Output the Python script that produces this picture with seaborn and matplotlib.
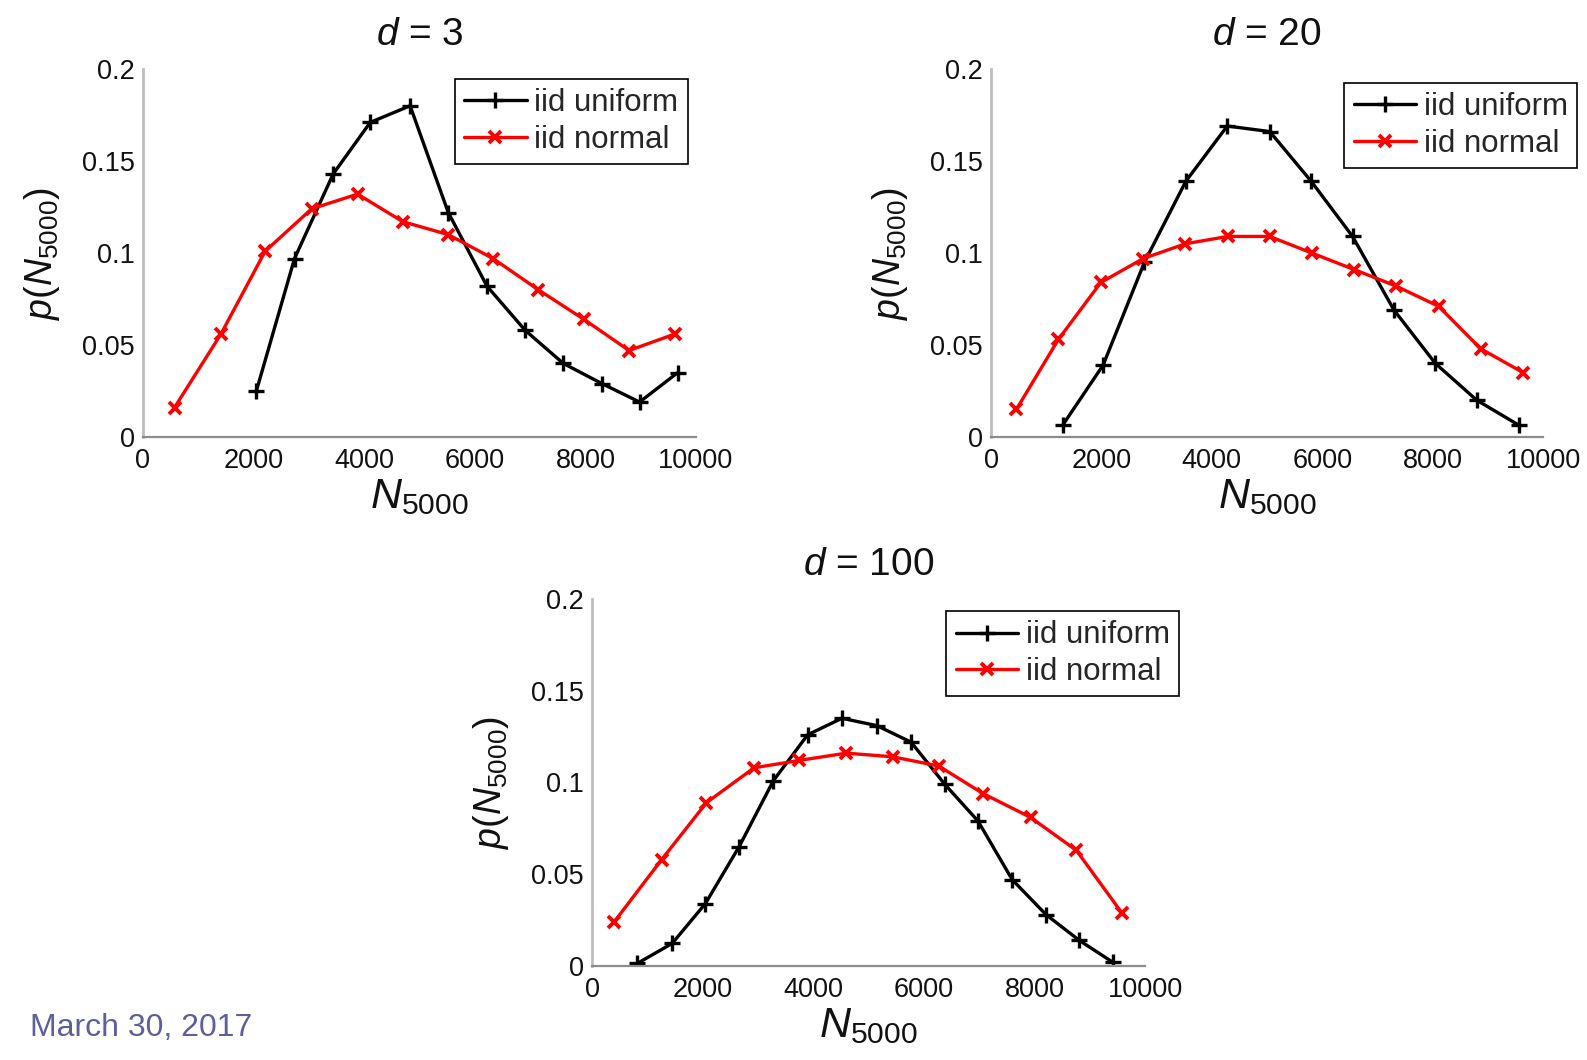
import matplotlib
matplotlib.use("Agg")
import matplotlib.pyplot as plt
import seaborn as sns
import numpy as np
import pandas as pd

# ---- data: p(N_5000) for iid uniform and iid normal samples, three dimensions ----
d3_uniform_x = [2050, 2740, 3440, 4110, 4830, 5520, 6220, 6910, 7600, 8300, 8980, 9670]
d3_uniform_y = [0.025, 0.097, 0.143, 0.171, 0.180, 0.122, 0.082, 0.058, 0.040, 0.029, 0.019, 0.035]
d3_normal_x = [570, 1410, 2210, 3050, 3880, 4700, 5520, 6330, 7150, 7970, 8790, 9620]
d3_normal_y = [0.016, 0.056, 0.101, 0.124, 0.132, 0.117, 0.110, 0.097, 0.080, 0.064, 0.047, 0.056]

d20_uniform_x = [1300, 2030, 2780, 3530, 4280, 5050, 5800, 6550, 7300, 8050, 8800, 9570]
d20_uniform_y = [0.0065, 0.039, 0.095, 0.139, 0.169, 0.166, 0.139, 0.109, 0.069, 0.040, 0.020, 0.0063]
d20_normal_x = [460, 1220, 1990, 2760, 3520, 4290, 5050, 5810, 6580, 7340, 8110, 8870, 9640]
d20_normal_y = [0.015, 0.053, 0.084, 0.097, 0.105, 0.109, 0.109, 0.100, 0.091, 0.082, 0.071, 0.048, 0.035]

d100_uniform_x = [820, 1450, 2050, 2660, 3280, 3900, 4520, 5150, 5770, 6380, 6980, 7600, 8210, 8810, 9420]
d100_uniform_y = [0.0014, 0.0123, 0.034, 0.065, 0.101, 0.126, 0.135, 0.131, 0.122, 0.099, 0.079, 0.047, 0.028, 0.014, 0.002]
d100_normal_x = [400, 1260, 2070, 2930, 3740, 4600, 5440, 6270, 7070, 7930, 8760, 9580]
d100_normal_y = [0.024, 0.058, 0.089, 0.108, 0.112, 0.116, 0.114, 0.109, 0.094, 0.081, 0.063, 0.029]

panel_titles = [r"$d$ = 3", r"$d$ = 20", r"$d$ = 100"]
series_labels = ["iid uniform", "iid normal"]
x_ticks = [0, 2000, 4000, 6000, 8000, 10000]
y_ticks = [0, 0.05, 0.1, 0.15, 0.2]
y_tick_labels = ["0", "0.05", "0.1", "0.15", "0.2"]
date_text = "March 30, 2017"

sns.set_style("white")
plt.rcParams["font.family"] = ["Liberation Sans", "DejaVu Sans"]
plt.rcParams["mathtext.fontset"] = "custom"
plt.rcParams["mathtext.rm"] = "Liberation Sans"
plt.rcParams["mathtext.it"] = "Liberation Sans:italic"

W, H = 1587, 1060
fig = plt.figure(figsize=(W / 100, H / 100), dpi=100)
fig.patch.set_facecolor("white")


def px_axes(left, top, right, bottom):
    return fig.add_axes([left / W, 1 - bottom / H, (right - left) / W, (bottom - top) / H])


panels = [
    dict(box=(143, 69, 696, 437), data=(d3_uniform_x, d3_uniform_y, d3_normal_x, d3_normal_y),
         legend_anchor=(0.985, 0.973), title=panel_titles[0]),
    dict(box=(991, 69, 1543, 437), data=(d20_uniform_x, d20_uniform_y, d20_normal_x, d20_normal_y),
         legend_anchor=(1.062, 0.962), title=panel_titles[1]),
    dict(box=(592, 599, 1145, 966), data=(d100_uniform_x, d100_uniform_y, d100_normal_x, d100_normal_y),
         legend_anchor=(1.062, 0.967), title=panel_titles[2]),
]

for p in panels:
    ax = px_axes(*p["box"])
    ux, uy, nx, ny = p["data"]
    df_u = pd.DataFrame({"N": ux, "p": uy})
    df_n = pd.DataFrame({"N": nx, "p": ny})
    sns.lineplot(data=df_u, x="N", y="p", ax=ax, color="black", linewidth=2.4,
                 marker="+", markersize=11, markeredgewidth=2.4,
                 markeredgecolor="black", markerfacecolor="black", label=series_labels[0])
    sns.lineplot(data=df_n, x="N", y="p", ax=ax, color="#ff0000", linewidth=2.4,
                 marker="x", markersize=9, markeredgewidth=2.8,
                 markeredgecolor="#ff0000", markerfacecolor="#ff0000", label=series_labels[1])

    ax.set_xlim(0, 10000)
    ax.set_ylim(0, 0.2)
    ax.set_xticks(x_ticks)
    ax.set_xticklabels([str(t) for t in x_ticks])
    ax.set_yticks(y_ticks)
    ax.set_yticklabels(y_tick_labels)
    ax.tick_params(axis="both", direction="in", length=5, width=1.2, color="#999999",
                   labelsize=19.5, labelcolor="#111111", pad=6)
    ax.tick_params(axis="x", pad=8)
    for side in ("top", "right"):
        ax.spines[side].set_visible(False)
    ax.spines["left"].set_color("#bdbdbd")
    ax.spines["left"].set_linewidth(2.0)
    ax.spines["bottom"].set_color("#8c8c8c")
    ax.spines["bottom"].set_linewidth(1.6)
    ax.set_facecolor("none")

    ax.set_title(p["title"], fontsize=28, pad=17, color="#111111")
    ax.set_xlabel(r"$N_{5000}$", fontsize=31, labelpad=2, color="#111111")
    ax.set_ylabel(r"$p(N_{5000})$", fontsize=27, labelpad=14, color="#111111")

    leg = ax.legend(loc="upper right", bbox_to_anchor=p["legend_anchor"], borderaxespad=0,
                    fontsize=22.5, frameon=True, fancybox=False, handlelength=2.0,
                    handletextpad=0.25, borderpad=0.3, labelspacing=0.2)
    frame = leg.get_frame()
    frame.set_edgecolor("black")
    frame.set_linewidth(1.2)
    frame.set_facecolor("white")
    frame.set_alpha(1)

fig.text(30 / W, 1 - 1036 / H, date_text, fontsize=23, color="#5e5e9c")

fig.savefig("out.png", dpi=100)
